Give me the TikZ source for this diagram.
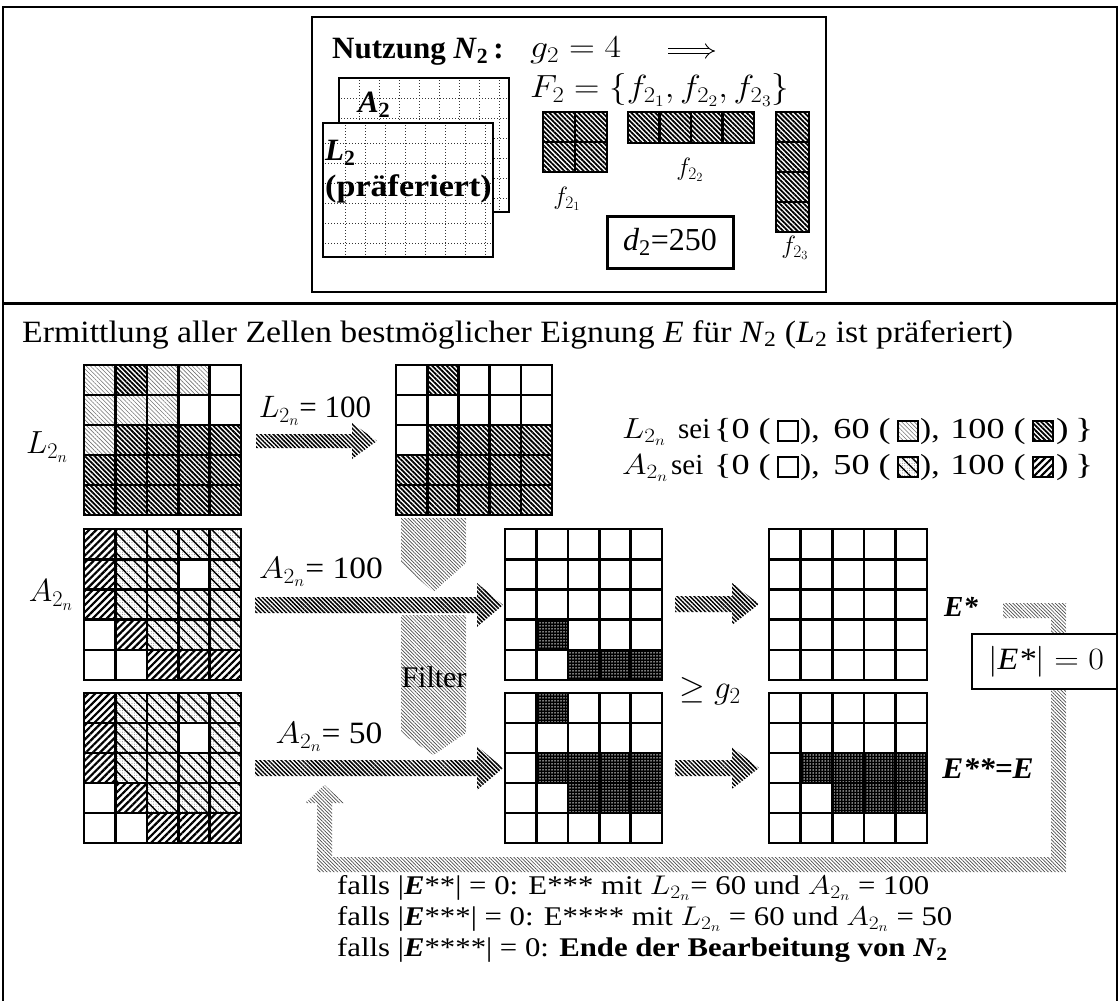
\documentclass[tikz,border=0pt]{standalone}
\usepackage{fix-cm}
\usepackage[no-math]{fontspec}
\setmainfont{Liberation Serif}
\usetikzlibrary{patterns.meta,calc,arrows.meta}
\newcommand\fsz[1]{\fontsize{#1}{#1}\selectfont}
\newcommand\bi[1]{\textbf{\textit{#1}}}
\newcommand\hs[2][1.1]{\scalebox{#1}[1]{#2}}
% cell grid: #1 name, #2 top-left, #3 cell width, #4 cell height, #5 rows
\newcommand\cellgrid[5]{%
  \coordinate (#1) at (#2);
  \foreach \row [count=\rr] in {#5} {
    \foreach \v [count=\cc] in \row {
      \path[c\v] ($(#1)+({(\cc-1)*#3},{(\rr-1)*#4})$) rectangle ++(#3,#4);
    }
  }
  \foreach \row [count=\rr] in {#5} {
    \foreach \v [count=\cc] in \row {
      \draw[gl] ($(#1)+({(\cc-1)*#3},{(\rr-1)*#4})$) rectangle ++(#3,#4);
    }
  }
}
% right block arrow: #1 style, #2 x start, #3 x tip, #4 y, #5 shaft half, #6 head half, #7 head length
\newcommand\blockR[7]{%
  \fill[#1] (#2,#4-#5) -- (#3-#7,#4-#5) -- (#3-#7,#4-#6) -- (#3,#4) -- (#3-#7,#4+#6) -- (#3-#7,#4+#5) -- (#2,#4+#5) -- cycle;}
\begin{document}
\begin{tikzpicture}[x=1pt,y=-1pt,
  gl/.style={draw=black,line width=2.6pt},
  c0/.style={fill=white},
  c1/.style={pattern={Lines[angle=-45,distance=3pt,line width=0.6pt]},pattern color=black!55},
  c2/.style={pattern={Lines[angle=-45,distance=3.4pt,line width=1.8pt]},pattern color=black},
  c3/.style={preaction={pattern={Dots[radius=0.45pt,distance=2.4pt]},pattern color=black!60},
             pattern={Lines[angle=-45,distance=7pt,line width=1.4pt]},pattern color=black},
  c4/.style={pattern={Lines[angle=45,distance=5pt,line width=2.2pt]},pattern color=black},
  c5/.style={preaction={fill=black},pattern={Dots[radius=0.75pt,distance=3pt]},pattern color=white},
  harrow/.style={pattern={Lines[angle=-45,distance=3pt,line width=1.5pt]},pattern color=black},
  farrow/.style={pattern={Lines[angle=-45,distance=2.5pt,line width=0.7pt]},pattern color=black!70},
  sheet/.style={draw=black,line width=2.5pt,fill=white},
  dotl/.style={draw=black!80,line width=0.9pt,dash pattern=on 1pt off 2pt},
  lt/.style={font=\fsz{29},inner sep=0pt,anchor=base west},
  lte/.style={font=\fsz{29},inner sep=0pt,anchor=base east},
  bt/.style={font=\fsz{27},inner sep=0pt,anchor=base west},
  lb/.style={draw=black,line width=1.8pt,minimum width=20pt,minimum height=20pt,inner sep=0pt,anchor=north west},
  txt/.style={inner sep=0pt}
]
\useasboundingbox (0,0) rectangle (1120,1001);
\fill[white] (0,0) rectangle (1120,1001);
% outer frame and divider
\draw[line width=2.5pt] (3,1001) -- (3,7) -- (1117,7) -- (1117,1001);
\draw[line width=3pt] (3,303) -- (1117,303);

% ---------------- top box ----------------
\draw[line width=2.5pt] (312,17) rectangle (826,292);
\node[txt,anchor=west,font=\fsz{31}] (tNutz) at (332,52) {\textbf{Nutzung \textit{N}\textsubscript{2}\,:}};
\node[txt,anchor=west,font=\fsz{32}] (tG) at (530,50) {\hs[1.12]{$g_2 = 4$}};
\coordinate (impS) at (668,51);
\coordinate (impE) at (715,51);
\draw[double distance=4.5pt,line width=0.9pt,-{Implies}] (impS) -- (impE);
\node[txt,anchor=west,font=\fsz{32}] (tF) at (530,90) {\hs[1.1]{$F_2 = \{f_{2_1}, f_{2_2}, f_{2_3}\}$}};
% A2 sheet
\path[sheet] (339,78) rectangle (509,212);
\foreach \x in {359,379,...,499} \draw[dotl] (\x,80) -- (\x,210);
\foreach \y in {98,118,...,198} \draw[dotl] (341,\y) -- (507,\y);
\draw[line width=2.5pt] (339,78) rectangle (509,212);
% L2 sheet
\path[sheet] (323,123) rectangle (493,257);
\foreach \x in {345,365,...,485} \draw[dotl] (\x,125) -- (\x,255);
\foreach \y in {143,163,...,243} \draw[dotl] (325,\y) -- (491,\y);
\draw[line width=2.5pt] (323,123) rectangle (493,257);
\node[txt,anchor=west,font=\fsz{31}] (tA2) at (358,105) {\bi{A}\textbf{\textsubscript{2}}};
\node[txt,anchor=west,font=\fsz{31}] (tL2) at (325,153) {\bi{L}\textbf{\textsubscript{2}}};
\node[txt,anchor=west,font=\fsz{31}] (tPr) at (325,189) {\hs[1.1]{\textbf{(präferiert)}}};
% shapes f
\cellgrid{f21}{543,112}{32}{30}{{2,2},{2,2}}
\cellgrid{f22}{628,112}{31.5}{31}{{2,2,2,2}}
\cellgrid{f23}{776,112}{33}{30}{{2},{2},{2},{2}}
\node[txt,font=\fsz{25}] (lf21) at (567,199) {$f_{2_1}$};
\node[txt,font=\fsz{25}] (lf22) at (690,170) {$f_{2_2}$};
\node[txt,font=\fsz{25}] (lf23) at (795,248) {$f_{2_3}$};
\node[draw=black,line width=3pt,minimum width=126pt,minimum height=52pt,inner sep=0pt,font=\fsz{32}] (bD) at (670,242) {\textit{d}\textsubscript{2}=250};

% ---------------- lower part ----------------
\node[txt,anchor=base west,font=\fsz{31}] (tHead) at (22,342) {\hs[1.09]{Ermittlung aller Zellen bestmöglicher Eignung \textit{E} für \textit{N}\textsubscript{2} (\textit{L}\textsubscript{2} ist präferiert)}};

% grids
\cellgrid{gL}{84,365}{31.4}{30}{{1,2,1,1,0},{1,1,1,0,0},{1,2,2,2,2},{2,2,2,2,2},{2,2,2,2,2}}
\cellgrid{gLr}{396,365}{31.2}{30}{{0,2,0,0,0},{0,0,0,0,0},{0,2,2,2,2},{2,2,2,2,2},{2,2,2,2,2}}
\cellgrid{gA1}{84,529}{31.4}{30.2}{{4,3,3,3,3},{4,3,3,0,3},{4,3,3,3,3},{0,4,3,3,3},{0,0,4,4,4}}
\cellgrid{gA2}{84,693}{31.4}{30}{{4,3,3,3,3},{4,3,3,0,3},{4,3,3,3,3},{0,4,3,3,3},{0,0,4,4,4}}
\cellgrid{gM1}{505,529}{31.4}{30.2}{{0,0,0,0,0},{0,0,0,0,0},{0,0,0,0,0},{0,5,0,0,0},{0,0,5,5,5}}
\cellgrid{gM2}{505,693}{31.4}{30}{{0,5,0,0,0},{0,0,0,0,0},{0,5,5,5,5},{0,0,5,5,5},{0,0,0,0,0}}
\cellgrid{gR1}{769,529}{31.6}{30.2}{{0,0,0,0,0},{0,0,0,0,0},{0,0,0,0,0},{0,0,0,0,0},{0,0,0,0,0}}
\cellgrid{gR2}{769,693}{31.6}{30}{{0,0,0,0,0},{0,0,0,0,0},{0,5,5,5,5},{0,0,5,5,5},{0,0,0,0,0}}

\node[txt,font=\fsz{32}] (lLn) at (47,447) {$L_{2_n}$};
\node[txt,font=\fsz{32}] (lAn) at (51,595) {$A_{2_n}$};

% block arrows
\blockR{harrow}{256}{377}{441}{7}{18}{25}
\blockR{harrow}{255}{503}{605}{8}{22}{26}
\blockR{harrow}{255}{503}{768}{8}{22}{26}
\blockR{harrow}{675}{759}{604}{8}{21}{27}
\blockR{harrow}{675}{759}{768}{8}{21}{27}
\node[txt,font=\fsz{31}] (aL) at (315,411) {$L_{2_n}$= 100};
\node[txt,font=\fsz{31}] (aA1) at (321,572) {\hs[1.08]{$A_{2_n}$= 100}};
\node[txt,font=\fsz{31}] (aA2) at (329,737) {\hs[1.08]{$A_{2_n}$= 50}};

% filter arrows
\fill[farrow] (401,518) -- (466,518) -- (466,563) -- (433.5,592) -- (401,563) -- cycle;
\fill[farrow] (401,615) -- (466,615) -- (466,733) -- (433.5,755) -- (401,733) -- cycle;
\node[txt,font=\fsz{30}] (tFilter) at (434,677) {Filter};
\node[txt,font=\fsz{33}] (tGeq) at (710,691) {$\geq g_2$};

% loop back
\coordinate (loopS) at (1003,610.5);
\coordinate (loopE) at (324.5,785);
\fill[farrow] (loopS |- 0,603) -- (1066,603) -- (1066,872) -- (317,872) -- (317,803) -- (305,803) -- (loopE) -- (344,803) -- (332,803) -- (332,857) -- (1051,857) -- (1051,618) -- (loopS |- 0,618) -- cycle;

\node[txt,font=\fsz{29}] (tEs) at (961,607) {\bi{E*}};
\node[txt,font=\fsz{30}] (tEss) at (988,769) {\hs[1.05]{\bi{E**=E}}};
\node[draw=black,line width=2.2pt,fill=white,minimum width=145pt,minimum height=55pt,inner sep=0pt] (bE) at (1044.5,661.5) {};
\node[txt,font=\fsz{31}] (tE0) at (1046,662) {\hs[1.1]{$|$\textit{E*}$|=0$}};

% legend (line 1)
\node[lt] (lg1a) at (622,438) {\hs[1.15]{$L_{2_n}$}};
\node[lt] (lg1b) at (678,438) {sei};
\node[lte] (lg1c) at (771,438) {\hs[1.25]{\{0 (}};
\node[lb,c0] (lg1d) at (777,420) {};
\node[lt] (lg1e) at (800,438) {\hs[1.15]{),}};
\node[lte] (lg1f) at (891,438) {\hs[1.25]{60 (}};
\node[lb,c1] (lg1g) at (897,420) {};
\node[lt] (lg1h) at (920,438) {\hs[1.15]{),}};
\node[lte] (lg1i) at (1026,438) {\hs[1.25]{100 (}};
\node[lb,c2] (lg1j) at (1032,420) {};
\node[lt] (lg1k) at (1056,438) {\hs[1.3]{)\,\}}};
% legend (line 2)
\node[lt] (lg2a) at (622,474) {\hs[1.15]{$A_{2_n}$}};
\node[lt] (lg2b) at (671,474) {sei};
\node[lte] (lg2c) at (771,474) {\hs[1.25]{\{0 (}};
\node[lb,c0] (lg2d) at (777,456) {};
\node[lt] (lg2e) at (800,474) {\hs[1.15]{),}};
\node[lte] (lg2f) at (891,474) {\hs[1.25]{50 (}};
\node[lb,c3] (lg2g) at (897,456) {};
\node[lt] (lg2h) at (920,474) {\hs[1.15]{),}};
\node[lte] (lg2i) at (1026,474) {\hs[1.25]{100 (}};
\node[lb,c4] (lg2j) at (1032,456) {};
\node[lt] (lg2k) at (1056,474) {\hs[1.3]{)\,\}}};

% bottom text
\node[bt] (b1) at (337,894) {\hs[1.14]{falls |\bi{E}**| = 0: E*** mit $L_{2_n}$= 60 und $A_{2_n}$ = 100}};
\node[bt] (b2) at (337,925) {\hs[1.14]{falls |\bi{E}***| = 0: E**** mit $L_{2_n}$ = 60 und $A_{2_n}$ = 50}};
\node[bt] (b3) at (337,956) {\hs[1.14]{falls |\bi{E}****| = 0: \textbf{Ende der Bearbeitung von \textit{N}\textsubscript{2}}}};
\end{tikzpicture}
\end{document}
